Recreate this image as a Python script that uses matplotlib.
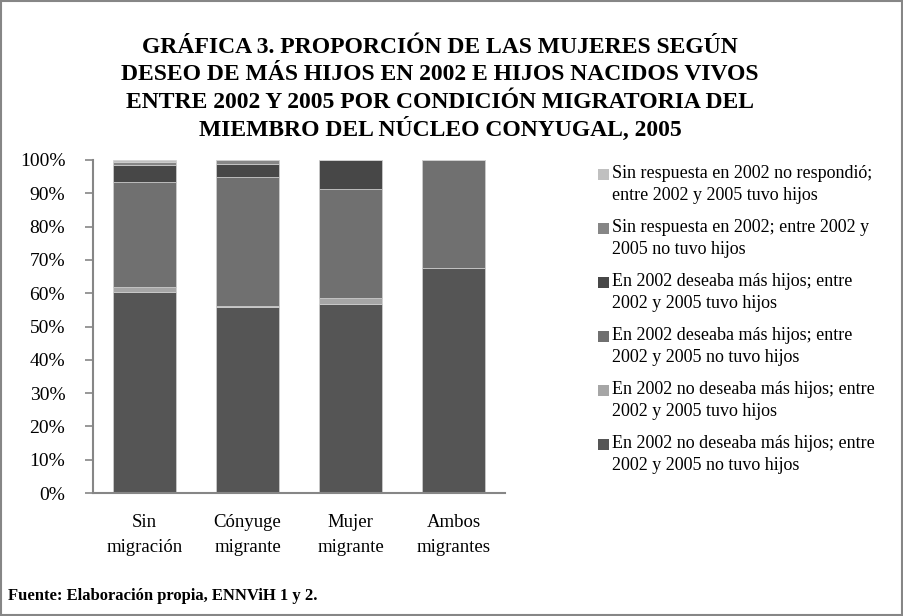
import matplotlib
matplotlib.use("Agg")
import matplotlib.pyplot as plt
from matplotlib.patches import Rectangle
import numpy as np

plt.rcParams['font.family'] = ['Liberation Serif', 'DejaVu Serif']

categories = ["Sin\nmigración", "Cónyuge\nmigrante", "Mujer\nmigrante", "Ambos\nmigrantes"]

# Series values (%), bottom to top
no_deseaba_no_tuvo = [60.5, 56.0, 56.8, 67.7]
no_deseaba_tuvo = [1.5, 0.3, 1.7, 0.0]
deseaba_no_tuvo = [31.3, 38.7, 32.8, 32.3]
deseaba_tuvo = [5.2, 3.7, 8.7, 0.0]
sin_resp_no_tuvo = [1.0, 1.3, 0.0, 0.0]
sin_resp_tuvo = [0.5, 0.0, 0.0, 0.0]

series_labels = [
    "En 2002 no deseaba más hijos; entre\n2002 y 2005 no tuvo hijos",
    "En 2002 no deseaba más hijos; entre\n2002 y 2005 tuvo hijos",
    "En 2002 deseaba más hijos; entre\n2002 y 2005 no tuvo hijos",
    "En 2002 deseaba más hijos; entre\n2002 y 2005 tuvo hijos",
    "Sin respuesta en 2002; entre 2002 y\n2005 no tuvo hijos",
    "Sin respuesta en 2002 no respondió;\nentre 2002 y 2005 tuvo hijos",
]
series = [no_deseaba_no_tuvo, no_deseaba_tuvo, deseaba_no_tuvo,
          deseaba_tuvo, sin_resp_no_tuvo, sin_resp_tuvo]
colors = ["#555555", "#a6a6a6", "#707070", "#474747", "#868686", "#c0c0c0"]

W, H = 904, 616
fig = plt.figure(figsize=(W / 100, H / 100), dpi=100)

# figure border
fig.patches.append(Rectangle((0.001, 0.001), 0.997, 0.997, transform=fig.transFigure,
                             fill=False, edgecolor="#868686", linewidth=1.5))

ax = fig.add_axes([93 / W, 1 - 493 / H, 412 / W, 333 / H])
x = np.arange(len(categories))
bottom = np.zeros(len(categories))
for vals, col in zip(series, colors):
    v = np.array(vals)
    ax.bar(x, v, 0.62, bottom=bottom, color=col, edgecolor="#d0d0d0", linewidth=0.5)
    bottom += v

ax.set_xlim(-0.5, 3.5)
ax.set_ylim(0, 100)
ax.set_yticks(np.arange(0, 101, 10))
ax.set_yticklabels([f"{t}%" for t in range(0, 101, 10)], fontsize=14)
ax.set_xticks(x)
ax.set_xticklabels(categories, fontsize=13.5, linespacing=1.6)
ax.tick_params(axis='y', direction='out', length=6, color="#868686", width=1.2, pad=14)
ax.tick_params(axis='x', length=0, pad=15)
for s in ["top", "right"]:
    ax.spines[s].set_visible(False)
for s in ["left", "bottom"]:
    ax.spines[s].set_color("#868686")
    ax.spines[s].set_linewidth(1.5)

# title (line by line for uniform spacing)
title_lines = [
    "GRÁFICA 3. PROPORCIÓN DE LAS MUJERES SEGÚN",
    "DESEO DE MÁS HIJOS EN 2002 E HIJOS NACIDOS VIVOS",
    "ENTRE 2002 Y 2005 POR CONDICIÓN MIGRATORIA DEL",
    "MIEMBRO DEL NÚCLEO CONYUGAL, 2005",
]
for i, line in enumerate(title_lines):
    fig.text(440 / W, 1 - (45 + 27.3 * i) / H, line, ha="center", va="center_baseline",
             fontsize=17, fontweight="bold")

# legend (top entry = last series)
ys = [175, 229, 283, 337, 391, 445]
for i, idx in enumerate(range(len(series) - 1, -1, -1)):
    yc = ys[i]
    fig.patches.append(Rectangle((598 / W, 1 - (yc + 5) / H), 11 / W, 11 / H,
                                 transform=fig.transFigure, facecolor=colors[idx],
                                 edgecolor="none"))
    fig.text(612 / W, 1 - (yc - 10) / H, series_labels[idx], ha="left", va="top",
             fontsize=13, linespacing=1.35)

# source
fig.text(8 / W, 1 - 596 / H, "Fuente: Elaboración propia, ENNViH 1 y 2.",
         ha="left", va="center", fontsize=12, fontweight="bold")

fig.savefig("out.png", dpi=100)
